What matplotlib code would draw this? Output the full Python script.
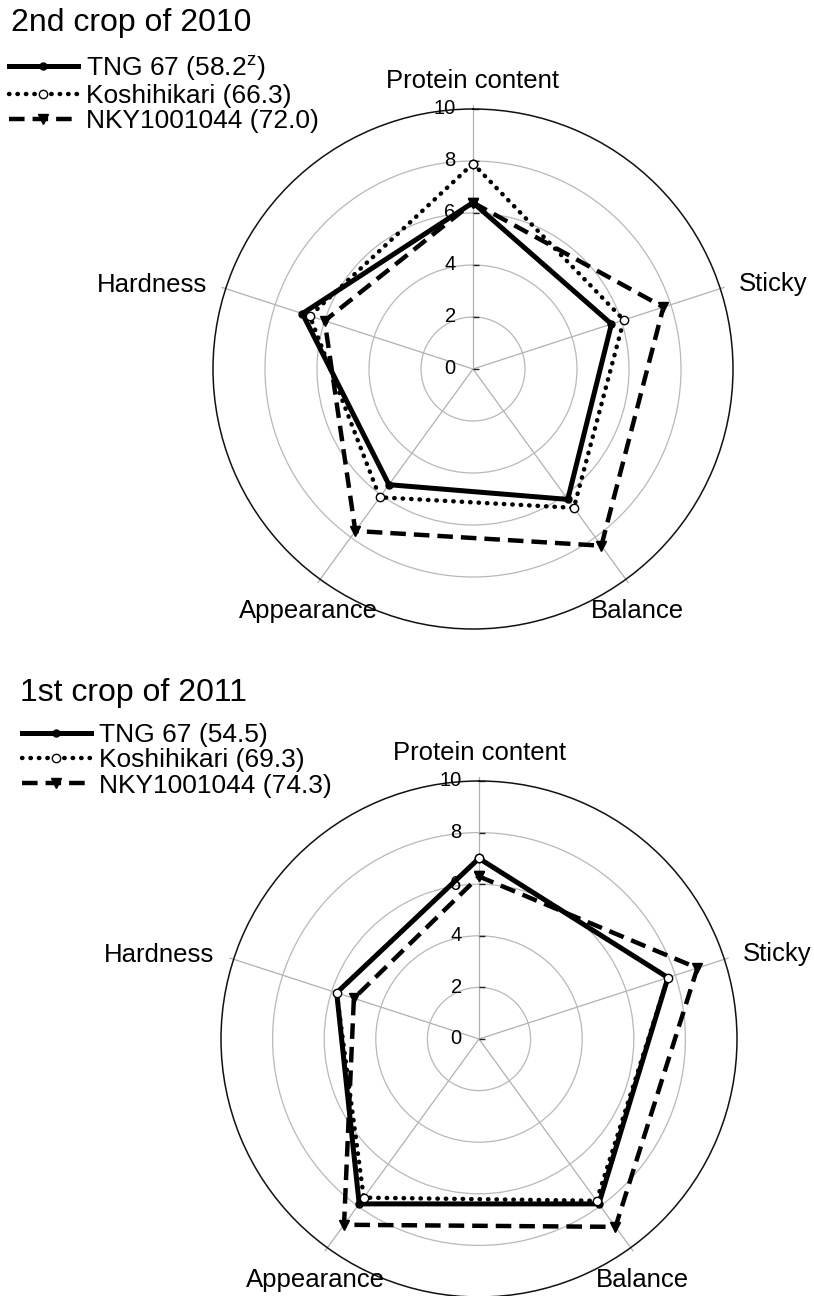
import numpy as np
import matplotlib
matplotlib.use('Agg')
import matplotlib.pyplot as plt
from matplotlib.path import Path

plt.rcParams['font.family'] = ['Liberation Sans', 'DejaVu Sans']
plt.rcParams['mathtext.fontset'] = 'custom'
plt.rcParams['mathtext.rm'] = 'Liberation Sans'

# ---------------- data ----------------
categories = ['Protein content', 'Sticky', 'Balance', 'Appearance', 'Hardness']
radial_ticks = [0, 2, 4, 6, 8, 10]

title_2010 = '2nd crop of 2010'
title_2011 = '1st crop of 2011'
labels_2010 = ['TNG 67 (58.2$^{\\mathregular{z}}$)', 'Koshihikari (66.3)', 'NKY1001044 (72.0)']
labels_2011 = ['TNG 67 (54.5)', 'Koshihikari (69.3)', 'NKY1001044 (74.3)']

tng_2010 = [6.4, 5.6, 6.2, 5.5, 6.9]
koshi_2010 = [7.9, 6.1, 6.6, 6.1, 6.6]
nky_2010 = [6.4, 7.7, 8.4, 7.7, 6.0]

tng_2011 = [7.0, 7.7, 7.9, 7.9, 5.8]
koshi_2011 = [7.0, 7.7, 7.75, 7.6, 5.8]
nky_2011 = [6.3, 8.9, 9.0, 8.9, 5.1]

# ---------------- styles ----------------
styles = [
    dict(color='k', lw=3.6, ls='-', marker='o', ms=5, mfc='k', mec='k', zorder=3),
    dict(color='k', lw=3.2, ls=(0, (0.1, 1.8)), dash_capstyle='round', marker='o', ms=6,
         mfc='white', mec='k', mew=1.0, zorder=5),
    dict(color='k', lw=3.2, ls=(0, (3.5, 1.8)), dash_capstyle='butt', marker='v', ms=7,
         mfc='k', mec='k', zorder=4),
]

W, H = 814, 1296
fig = plt.figure(figsize=(W / 100, H / 100), dpi=100)

angles = np.linspace(0, 2 * np.pi, len(categories), endpoint=False)
tick_marker = Path([(0, 0), (1, 0)])

# label offsets in points (dx, dy, ha)
label_offsets = [(0, 20.5, 'center'), (13, 3.6, 'left'), (8.6, -23, 'center'),
                 (-8.6, -23, 'center'), (-13.7, 2.9, 'right')]


def radar(center, radius, title, labels, series, title_x, legend_x):
    cx, cy = center
    rect = [(cx - radius) / W, (H - cy - radius) / H, 2 * radius / W, 2 * radius / H]
    ax = fig.add_axes(rect, projection='polar')
    ax.set_theta_zero_location('N')
    ax.set_theta_direction(-1)
    ax.set_ylim(0, 10)
    ax.set_xticks([])
    ax.set_yticks([2, 4, 6, 8])
    ax.set_yticklabels([])
    ax.yaxis.grid(True, color='#b8b8b8', lw=0.9)
    ax.tick_params(axis='y', length=0)
    ax.spines['polar'].set_color('#111111')
    ax.spines['polar'].set_linewidth(1.1)

    # spokes
    for a in angles:
        ax.plot([a, a], [0, 10.15], color='#b0b0b0', lw=0.9, clip_on=False, zorder=1)

    # radial ticks and labels on protein axis
    ax.plot(np.zeros(len(radial_ticks)), radial_ticks, ls='none', marker=tick_marker,
            ms=8.5, mec='#222222', mew=1.0, clip_on=False, zorder=2)
    for v in radial_ticks:
        ax.annotate(str(v), xy=(0, v), xytext=(-12.5, 0), textcoords='offset points',
                    ha='right', va='center', fontsize=14.5, annotation_clip=False)

    # category labels
    for a, name, (dx, dy, ha) in zip(angles, categories, label_offsets):
        ax.annotate(name, xy=(a, 10), xytext=(dx, dy), textcoords='offset points',
                    ha=ha, va='center', fontsize=18.5, annotation_clip=False)

    handles = []
    for vals, st in zip(series, styles):
        th = np.append(angles, angles[0])
        rr = np.append(vals, vals[0])
        ln, = ax.plot(th, rr, clip_on=False, **st)
        handles.append(ln)

    fig.text(title_x / W, 1 - (cy - 346) / H, title, fontsize=23, ha='left', va='center')
    fig.legend(handles, labels, loc='upper left',
               bbox_to_anchor=(legend_x / W, 1 - (cy - 316) / H), frameon=False,
               fontsize=19, handlelength=2.6, handletextpad=0.3, labelspacing=0.05,
               borderpad=0, borderaxespad=0, numpoints=1)
    return ax


radar((473, 369), 260, title_2010, labels_2010, [tng_2010, koshi_2010, nky_2010], 11, 9)
radar((479, 1039), 258, title_2011, labels_2011, [tng_2011, koshi_2011, nky_2011], 20, 22)

fig.savefig('out.png', dpi=100)
